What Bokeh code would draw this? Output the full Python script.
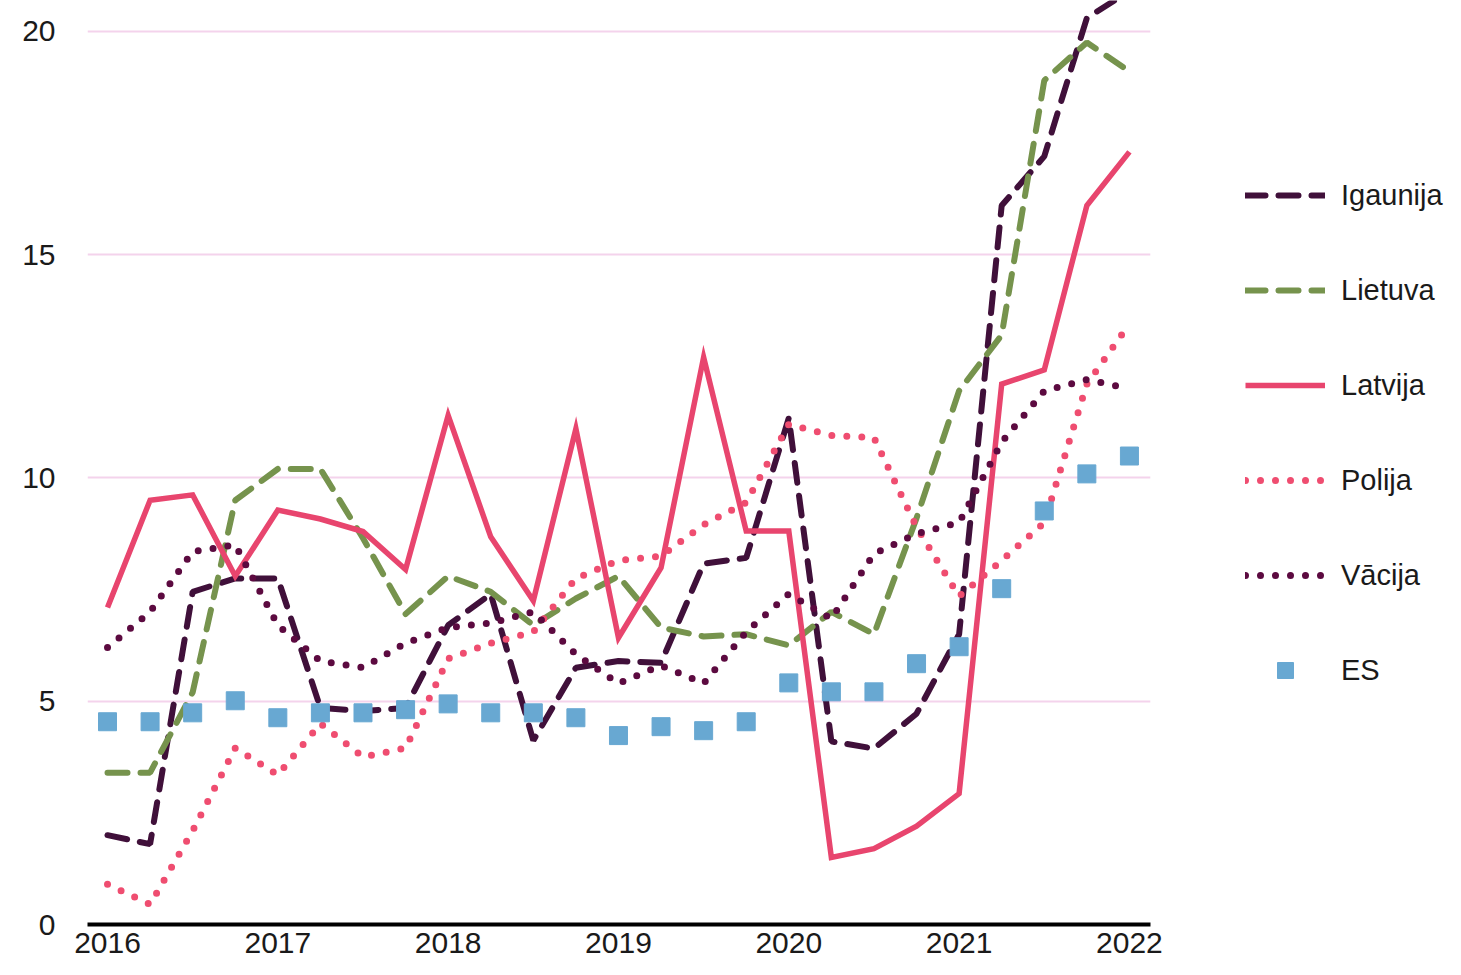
from bokeh.plotting import figure
from bokeh.models import Range1d, FixedTicker, Legend, LegendItem, BoxAnnotation
from bokeh.embed import file_html
from bokeh.resources import INLINE

# Quarters 2016Q1 .. 2022Q1
quarters = [f"{y}Q{q}" for y in range(2016, 2022) for q in range(1, 5)] + ["2022Q1"]
year_labels = ["2016", "2017", "2018", "2019", "2020", "2021", "2022"]
y_ticks = [0, 5, 10, 15, 20]

igaunija = [2.0, 1.8, 7.45, 7.75, 7.75, 4.85, 4.78, 4.85, 6.7, 7.4, 4.12, 5.75, 5.9,
            5.86, 8.08, 8.21, 11.34, 4.1, 3.94, 4.72, 6.5, 16.1, 17.2, 20.3, 20.9]
lietuva = [3.4, 3.4, 5.2, 9.5, 10.2, 10.2, 8.65, 6.95, 7.8, 7.45, 6.7, 7.3, 7.8,
           6.65, 6.45, 6.5, 6.25, 7.0, 6.5, 9.1, 11.95, 13.2, 18.9, 19.75, 19.1]
latvija = [7.1, 9.5, 9.62, 7.8, 9.28, 9.08, 8.8, 7.95, 11.4, 8.68, 7.25, 11.1, 6.42,
           7.99, 12.7, 8.81, 8.81, 1.5, 1.7, 2.2, 2.93, 12.1, 12.42, 16.1, 17.3]
polija = [0.9, 0.45, 2.1, 3.95, 3.35, 4.5, 3.75, 3.95, 5.95, 6.3, 6.55, 7.75, 8.15,
          8.25, 8.95, 9.45, 11.2, 10.95, 10.9, 8.9, 7.35, 8.15, 9.0, 12.1, 13.45]
vacija = [6.2, 7.0, 8.35, 8.5, 6.7, 5.9, 5.75, 6.3, 6.65, 6.75, 7.0, 6.05, 5.4,
          5.8, 5.4, 6.55, 7.4, 6.85, 8.3, 8.75, 9.0, 10.8, 11.95, 12.2, 12.0]
es = [4.54, 4.54, 4.74, 5.01, 4.63, 4.74, 4.74, 4.81, 4.94, 4.74, 4.74, 4.63, 4.23,
      4.43, 4.34, 4.54, 5.41, 5.21, 5.21, 5.84, 6.22, 7.52, 9.26, 10.09, 10.49]

x = list(range(len(quarters)))
year_ticks = [quarters.index(f"{y}Q1") for y in year_labels]

FONT = "Liberation Sans"
X_LO, X_HI = -0.47, 24.49          # plotted span of the quarter axis
X_END = X_LO + 1358 / 42.58        # frame continues under the legend area

p = figure(width=1445, height=959, output_backend="svg", toolbar_location=None,
           x_range=Range1d(X_LO, X_END), y_range=Range1d(0, 20.69),
           min_border_left=87, min_border_right=0, min_border_top=0, min_border_bottom=35)
p.outline_line_color = None
p.background_fill_color = "white"

# axes
p.xaxis.ticker = FixedTicker(ticks=year_ticks)
p.xaxis.major_label_overrides = {t: l for t, l in zip(year_ticks, year_labels)}
p.xaxis.bounds = (X_LO, X_HI)
p.xaxis.axis_line_color = "black"
p.xaxis.axis_line_width = 4
p.xaxis.major_tick_line_color = None
p.xaxis.minor_tick_line_color = None
p.xaxis.major_label_standoff = 2
p.yaxis.ticker = FixedTicker(ticks=y_ticks)
p.yaxis.axis_line_color = None
p.yaxis.major_tick_line_color = None
p.yaxis.minor_tick_line_color = None
p.yaxis.major_label_standoff = 26
for ax in (p.xaxis, p.yaxis):
    ax.major_label_text_font = FONT
    ax.major_label_text_font_size = "30px"
    ax.major_label_text_color = "#1a1a1a"

p.xgrid.grid_line_color = None
p.ygrid.grid_line_color = "#f4d3ec"
p.ygrid.grid_line_width = 2

# hide grid lines to the right of the plotted span (legend area)
p.add_layout(BoxAnnotation(left=X_HI, fill_color="white", fill_alpha=1.0,
                           line_color=None, level="underlay"))

r_ig = p.line(x, igaunija, line_color="#40103a", line_width=6, line_dash="20 13", line_cap="round")
r_li = p.line(x, lietuva, line_color="#76934d", line_width=6, line_dash="20 13", line_cap="round")
r_la = p.line(x, latvija, line_color="#e8456e", line_width=5.5, line_join="miter")
r_po = p.line(x, polija, line_color="#ef4d70", line_width=7, line_dash="0 15", line_cap="round")
r_va = p.line(x, vacija, line_color="#5c0a40", line_width=7, line_dash="0 15", line_cap="round")
r_es = p.scatter(x, es, marker="square", size=18, fill_color="#68a8d2", line_color="#68a8d2")

legend = Legend(items=[
    LegendItem(label="Igaunija", renderers=[r_ig]),
    LegendItem(label="Lietuva", renderers=[r_li]),
    LegendItem(label="Latvija", renderers=[r_la]),
    LegendItem(label="Polija", renderers=[r_po]),
    LegendItem(label="Vācija", renderers=[r_va]),
    LegendItem(label="ES", renderers=[r_es]),
], location=(1158, 234), orientation="vertical",
   glyph_width=80, glyph_height=40, label_height=40, spacing=55,
   label_standoff=16, padding=0, margin=0,
   border_line_color=None, background_fill_alpha=0,
   label_text_font=FONT, label_text_font_size="29px", label_text_color="#1a1a1a")
p.add_layout(legend, "center")

open("out.html", "w").write(file_html(p, INLINE))
